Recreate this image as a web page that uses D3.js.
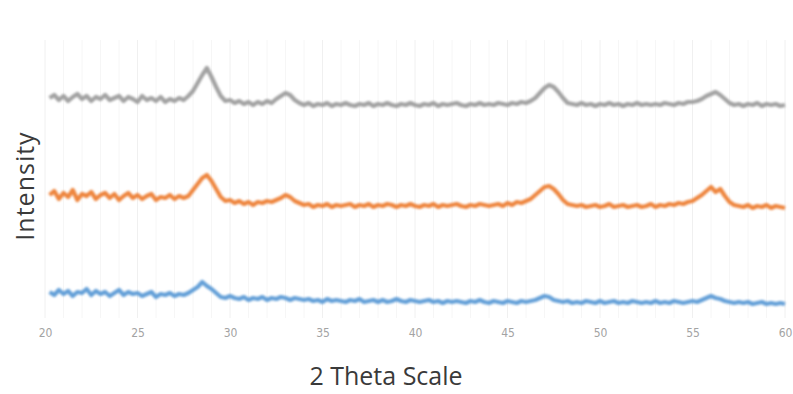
<!DOCTYPE html>
<html>
<head>
<meta charset="utf-8">
<script src="https://cdn.jsdelivr.net/npm/d3@7"></script>
<style>
  html, body { margin: 0; padding: 0; background: #fff; }
  svg { display: block; }
  .tick-label { font-family: "DejaVu Sans Condensed", "Liberation Sans Narrow", sans-serif; font-size: 12px; fill: #a3a3a3; }
  .axis-title { font-family: "Open Sans", "Noto Sans", sans-serif; font-size: 25px; fill: #3a3a3a; }
</style>
</head>
<body>
<svg id="chart" width="793" height="394"></svg>
<script>
// x grid: 20.25 .. 60 step 0.25 (one value per step in every series)
const xStart = 20.25, xStep = 0.25;
const xTicks = [20, 25, 30, 35, 40, 45, 50, 55, 60];

// top trace (gray)
const graySeries = [
  217,220,215,219,214,218,221,216, 219,214,218,216,220,215,217,219,
  214,218,216,213,219,215,217,214, 218,213,216,214,217,215,
  219,224,232,240,247,238,228,219,214,215,
  212,214,211,213,210,213,211,214,212,216,219,222,220,215,212,210,
  212,209,211,210,212,209,211,210, 212,210,209,211,210,212,209,211,
  210,212,210,209,211,210,212,210, 209,211,210,212,209,211,210,211,
  212,210,209,211,210,212,210,211, 210,212,211,210,212,211,213,212,
  214,217,222,227,230,228,223,217,212,211,210,
  212,210,211,209,211,210,212,210, 211,209,211,210,212,210,211,210,
  211,210,212,211,210,212,211,213,
  213,214,216,219,221,223,220,216,212,210,211,
  209,211,210,212,209,211,210,211,209,210
];

// middle trace (orange)
const orangeSeries = [
  120,124,116,122,118,125,115,121,119,123,116,120,122,117,121,115,
  119,122,117,120,116,119,121,115,118,117,120,116,119,117,
  119,125,131,137,140,134,126,118,114,115,
  112,114,111,113,110,113,112,114,113,115,117,120,118,114,112,110,
  111,108,110,109,111,108,110,109, 110,111,108,110,109,111,108,110,
  109,111,110,108,110,109,111,109, 108,110,109,111,108,110,109,110,
  111,109,108,110,109,111,110,109, 110,111,109,112,110,113,112,114,
  116,120,124,128,129,126,121,115,111,110,109,
  110,108,109,110,108,109,111,108, 109,110,108,109,110,108,109,111,
  108,110,109,111,110,112,111,113,
  114,117,120,124,128,123,126,119,113,110,109,
  108,110,107,109,108,110,107,109,108,107
];

// bottom trace (blue)
const blueSeries = [
  23,20,25,21,24,19,23,22,26,20,24,21,23,19,22,25,
  20,23,21,22,19,21,23,18,21,20,22,19,21,20,
  22,25,28,33,29,26,22,18,17,19,
  17,16,18,15,17,16,18,15,17,16,18,17,15,17,16,15,
  16,14,15,13,16,14,15,14, 13,15,14,16,13,14,15,13,
  15,13,14,16,14,13,15,14, 13,14,15,13,14,12,14,13,
  14,13,12,14,13,15,13,12, 14,13,12,14,13,12,14,13,
  14,15,17,19,18,15,14,13,14,12,13,
  12,14,13,12,14,12,13,14, 12,13,12,14,13,12,13,12,
  14,12,13,12,14,13,12,13,
  14,13,15,17,19,17,16,14,13,12,13,
  12,13,11,12,13,11,12,11,12,11
];

const seriesList = [
  {values: graySeries, color: "#a3a3a3"},
  {values: orangeSeries, color: "#ee8640"},
  {values: blueSeries, color: "#65a0d8"}
];

const svg = d3.select("#chart");
const m = {top: 40, right: 8, bottom: 76, left: 45};
const W = 793, H = 394;

const x = d3.scaleLinear().domain([20, 60]).range([m.left, W - m.right]);
const y = d3.scaleLinear().domain([0, 275]).range([H - m.bottom - 3, m.top]);

const defs = svg.append("defs");
defs.append("filter").attr("id", "soft")
  .append("feGaussianBlur").attr("stdDeviation", 1.0);

// faint vertical grid
svg.append("g")
  .selectAll("line")
  .data(d3.range(20, 61, 1))
  .join("line")
  .attr("x1", d => x(d)).attr("x2", d => x(d))
  .attr("y1", m.top).attr("y2", H - m.bottom)
  .attr("stroke", d => d % 5 === 0 ? "#f0f0f0" : "#f6f6f6")
  .attr("stroke-width", 1);

const line = d3.line()
  .x((d, i) => x(xStart + i * xStep))
  .y(d => y(d));

svg.append("g").attr("filter", "url(#soft)")
  .selectAll("path")
  .data(seriesList)
  .join("path")
  .attr("fill", "none")
  .attr("stroke", d => d.color)
  .attr("stroke-width", 4.2)
  .attr("stroke-linejoin", "round")
  .attr("d", d => line(d.values));

// x tick labels
const xAxis = d3.axisBottom(x).tickValues(xTicks).tickSize(0).tickPadding(0);
const gx = svg.append("g")
  .attr("transform", `translate(0, ${H - m.bottom})`)
  .call(xAxis);
gx.select(".domain").remove();
gx.selectAll("text")
  .attr("class", "tick-label")
  .attr("fill", null)
  .attr("font-size", null)
  .attr("font-family", null)
  .attr("dy", "1.6em");

svg.append("text")
  .attr("class", "axis-title")
  .attr("x", 386)
  .attr("y", 385)
  .attr("text-anchor", "middle")
  .text("2 Theta Scale");

svg.append("text")
  .attr("class", "axis-title")
  .attr("transform", "translate(34, 186) rotate(-90)")
  .attr("text-anchor", "middle")
  .attr("letter-spacing", "1px")
  .text("Intensity");
</script>
</body>
</html>
